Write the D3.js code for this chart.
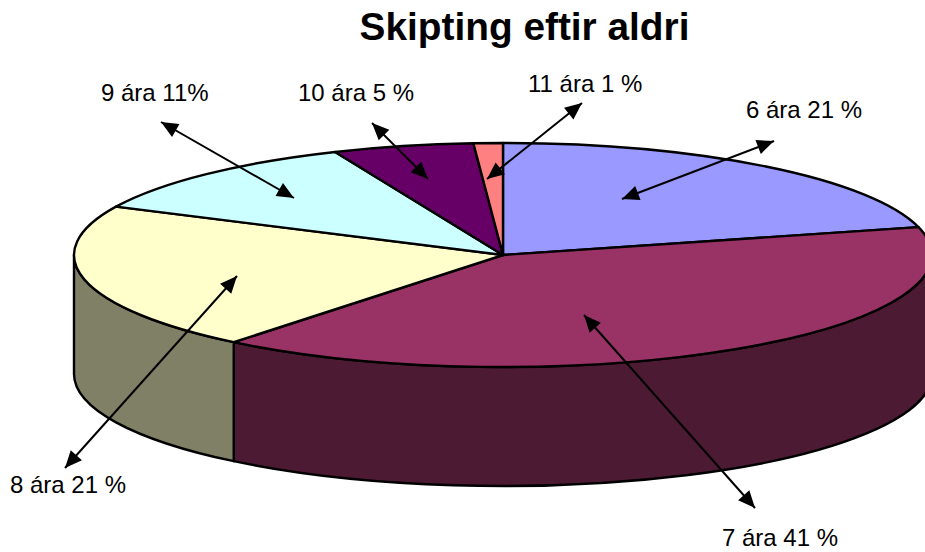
<!DOCTYPE html>
<html><head><meta charset="utf-8">
<script src="https://cdn.jsdelivr.net/npm/d3@7"></script>
<style>html,body{margin:0;padding:0;background:#fff}svg{display:block}text{font-family:"Liberation Sans",Arial,sans-serif;fill:#000}</style>
</head><body><svg id="c" width="925" height="552"></svg>
<script>
const categories = ["6 ára","7 ára","8 ára","9 ára","10 ára","11 ára"];
const sliceValues = [21,39.8,21.3,11.5,5.3,1.1];
const labelTexts = ["6 ára 21 %","7 ára 41 %","8 ára 21 %","9 ára 11%","10 ára 5 %","11 ára 1 %"];
const topColors = ["#9999FF","#993366","#FFFFCC","#CCFFFF","#660066","#FF8080"];
const sideColors = ["#4D4D80","#4D1A33","#808066","#668080","#330033","#804040"];
// label anchors and leader-line ends (layout, in page pixels)
const labelPos = [[746,118],[722,546],[10,493],[101,101],[298,101],[528,92]];
const leaderEnds = [[[622,199],[774,141]],[[584,315],[755,508]],[[237,276],[65,468]],[[294,198],[161,122]],[[428,179],[372,123]],[[487,179],[582,103]]];

const cx=503, cy=255, rx=429, ry=112, depth=119;
const svg=d3.select("#c");
const X=d3.scaleLinear().domain([-1,1]).range([cx-rx,cx+rx]);
const Y=d3.scaleLinear().domain([-1,1]).range([cy-ry,cy+ry]);
const px=a=>X(Math.sin(a)), py=a=>Y(-Math.cos(a));
const slices=d3.pie().sort(null).value(d=>d)(sliceValues);
const arcTo=(a0,a1,dy,sweep)=>`A${rx},${ry} 0 ${Math.abs(a1-a0)>Math.PI?1:0} ${sweep} ${px(a1)},${py(a1)+dy}`;

// visible side walls: lower half of the ellipse only
const sides=svg.append("g");
slices.forEach((s,i)=>{
  const a0=Math.max(s.startAngle,Math.PI/2), a1=Math.min(s.endAngle,3*Math.PI/2);
  if(a1<=a0) return;
  sides.append("path")
    .attr("d",`M${px(a0)},${py(a0)}L${px(a0)},${py(a0)+depth}${arcTo(a0,a1,depth,1)}L${px(a1)},${py(a1)}${arcTo(a1,a0,0,0)}Z`)
    .attr("fill",sideColors[i]).attr("stroke","#000").attr("stroke-width",2.4).attr("stroke-linejoin","round");
});
// top faces
svg.append("g").selectAll("path").data(slices).join("path")
  .attr("d",s=>`M${cx},${cy}L${px(s.startAngle)},${py(s.startAngle)}${arcTo(s.startAngle,s.endAngle,0,1)}Z`)
  .attr("fill",(s,i)=>topColors[i]).attr("stroke","#000").attr("stroke-width",2.4).attr("stroke-linejoin","round");

// leaders with a filled head at both ends
function head(p,q){
  const L=17,W=7.5,a=Math.atan2(q[1]-p[1],q[0]-p[0]),c=Math.cos(a),s=Math.sin(a);
  return `M${q[0]},${q[1]}L${q[0]-L*c-W*s},${q[1]-L*s+W*c}L${q[0]-L*c+W*s},${q[1]-L*s-W*c}Z`;
}
const lead=svg.append("g");
leaderEnds.forEach(([p,q])=>{
  lead.append("line").attr("x1",p[0]).attr("y1",p[1]).attr("x2",q[0]).attr("y2",q[1]).attr("stroke","#000").attr("stroke-width",2);
  lead.append("path").attr("d",head(p,q)+head(q,p)).attr("fill","#000");
});

svg.append("g").selectAll("text").data(labelTexts).join("text")
  .attr("x",(d,i)=>labelPos[i][0]).attr("y",(d,i)=>labelPos[i][1]).attr("font-size",24).text(d=>d);
svg.append("text").attr("x",524.5).attr("y",40).attr("text-anchor","middle")
  .attr("font-size",38.8).attr("font-weight","bold").text("Skipting eftir aldri");
</script></body></html>
